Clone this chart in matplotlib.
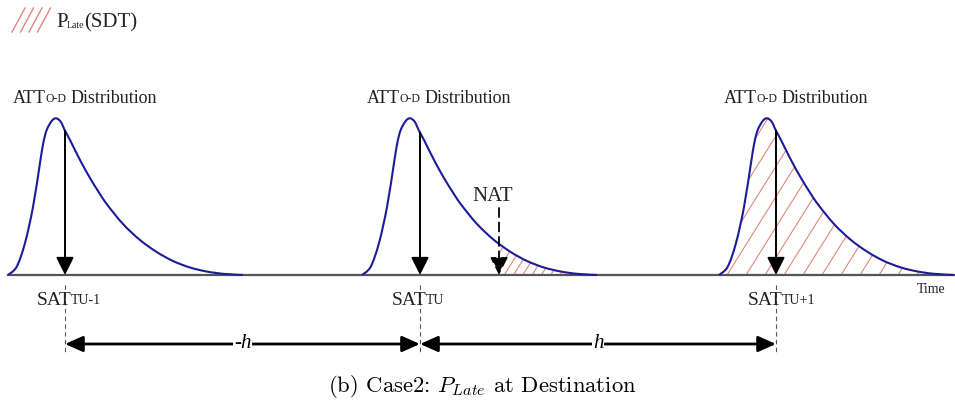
import numpy as np
import matplotlib
matplotlib.use("Agg")
import matplotlib.pyplot as plt
from matplotlib.patches import PathPatch
from matplotlib.path import Path

plt.rcParams['mathtext.fontset'] = 'cm'

# shape of one ATT distribution (px offset from start, height above axis)
curve_dx = [0, 8.7, 17, 25, 32, 35.3, 38.7, 43.7, 48, 52.7, 57, 62, 72, 82, 90, 98.7,
            115, 132, 148.7, 165, 182, 198.7, 215, 235]
curve_h = [0, 8.3, 32, 68, 112, 132, 145, 154, 156.7, 153.3, 144.3, 135, 115, 97, 84, 71,
           51, 35, 23, 14, 7.5, 3.5, 1.2, 0]

curve_start = [8, 362, 719]          # left end of each distribution
sat_x = [65, 420, 776]               # scheduled arrival times
sat_subs = ['TU-1', 'TU', 'TU+1']
nat_x = 499                          # new arrival time
gap_labels = ['-h', 'h']

base_y = 275
blue = '#1c1c98'
hatch_col = '#e0877c'
txt_col = '#222222'
serif = 'Liberation Serif'

fig = plt.figure(figsize=(9.55, 4.05), dpi=100)
ax = fig.add_axes([0, 0, 1, 1])
ax.set_xlim(0, 955)
ax.set_ylim(405, 0)
ax.axis('off')


def smooth_path(xs, ys, close_to=None):
    # bezier through the read points (catmull-rom control points)
    p = np.column_stack([xs, ys])
    ext = np.vstack([p[0], p, p[-1]])
    verts = [p[0]]
    codes = [Path.MOVETO]
    for i in range(len(p) - 1):
        c1 = ext[i + 1] + (ext[i + 2] - ext[i]) / 6
        c2 = ext[i + 2] - (ext[i + 3] - ext[i + 1]) / 6
        verts += [c1, c2, ext[i + 2]]
        codes += [Path.CURVE4] * 3
    if close_to is not None:
        for v in close_to:
            verts.append(v)
            codes.append(Path.LINETO)
        verts.append(p[0])
        codes.append(Path.CLOSEPOLY)
    return Path(verts, codes)


def hatch_region(path, x_lo, x_hi, spacing, ang=58):
    clip = PathPatch(path, facecolor='none', edgecolor='none')
    ax.add_patch(clip)
    t = np.tan(np.radians(ang))
    h = 200
    for x0 in np.arange(x_lo - h / t, x_hi + spacing, spacing):
        ln, = ax.plot([x0, x0 + h / t], [base_y, base_y - h], color=hatch_col, lw=0.8, zorder=1)
        ln.set_clip_path(clip)


# axis line
ax.plot([8, 955], [base_y, base_y], color='#555555', lw=1.6, zorder=2)
ax.text(917, 293, 'Time', fontsize=10, family=serif, color=txt_col)

dx = np.array(curve_dx)
hh = np.array(curve_h)
for i, (x0, sx) in enumerate(zip(curve_start, sat_x)):
    xs = x0 + dx
    ys = base_y - hh
    ax.add_patch(PathPatch(smooth_path(xs, ys), facecolor='none', edgecolor=blue, lw=1.5,
                           zorder=4))

    # hatched P_late area
    if i == 1:
        m = xs > nat_x
        hx = np.concatenate([[nat_x], xs[m]])
        hy = np.concatenate([[base_y - np.interp(nat_x - x0, dx, hh)], ys[m]])
        hatch_region(smooth_path(hx, hy, close_to=[(nat_x, base_y)]), nat_x, hx[-1], 9.3)
    if i == 2:
        hatch_region(smooth_path(xs, ys, close_to=[]), xs[0], xs[-1], 19)

    # SAT arrow from the curve down to the axis
    top = base_y - np.interp(sx - x0, dx, hh)
    ax.annotate('', xy=(sx, base_y), xytext=(sx, top),
                arrowprops=dict(arrowstyle='-|>,head_length=0.9,head_width=0.45',
                                color='k', lw=1.4, shrinkA=0, shrinkB=0, mutation_scale=12),
                zorder=5)

    # distribution label
    t = ax.text(x0 + 5, 103, 'ATT', fontsize=13, family=serif, color=txt_col, va='baseline')
    sub = ax.annotate('O-D', xy=(1, 0), xycoords=t, xytext=(-0.5, 1.5),
                      textcoords='offset points', fontsize=8.5, family=serif,
                      color=txt_col, va='bottom')
    ax.annotate('Distribution', xy=(1, 0), xycoords=sub, xytext=(3, -1.5),
                textcoords='offset points', fontsize=13, family=serif,
                color=txt_col, va='bottom')

    # SAT label
    s = ax.text(sx - 28, 305, 'SAT', fontsize=14, family=serif, color=txt_col, va='baseline')
    ax.annotate(sat_subs[i], xy=(1, 0), xycoords=s, xytext=(-0.5, 1.5),
                textcoords='offset points', fontsize=10, family=serif,
                color=txt_col, va='bottom')

    # dashed drop line
    ax.plot([sx, sx], [285, 352], color='#555555', lw=0.8, ls=(0, (4, 3)), zorder=1)

# NAT
ax.text(493, 201, 'NAT', fontsize=15, family=serif, color=txt_col, ha='center', va='baseline')
ax.annotate('', xy=(nat_x, base_y), xytext=(nat_x, 208),
            arrowprops=dict(arrowstyle='-|>,head_length=0.9,head_width=0.45', color='k', lw=1.3,
                            ls=(0, (5, 3)), shrinkA=0, shrinkB=0, mutation_scale=12), zorder=5)

# headway arrows
arr_y = 344
for (a, b), lab in zip(zip(sat_x[:-1], sat_x[1:]), gap_labels):
    ax.annotate('', xy=(b, arr_y), xytext=(a, arr_y),
                arrowprops=dict(arrowstyle='<|-|>,head_length=0.9,head_width=0.4', color='k',
                                lw=2.0, shrinkA=0, shrinkB=0, mutation_scale=12))
    ax.text((a + b) / 2, arr_y, lab, fontsize=15, family=serif, style='italic', ha='center',
            va='center', bbox=dict(facecolor='white', edgecolor='none', pad=0.5))

# legend
for lx in [12, 20.5, 29, 37.5]:
    ax.plot([lx, lx + 13], [32, 8], color=hatch_col, lw=1.0)
p = ax.text(56, 27, 'P', fontsize=15, family=serif, color=txt_col, va='baseline')
q = ax.annotate('Late', xy=(1, 0), xycoords=p, xytext=(-0.5, 1.5), textcoords='offset points',
                fontsize=7, family=serif, color=txt_col, va='bottom')
ax.annotate('(SDT)', xy=(1, 0), xycoords=q, xytext=(0, -1.5), textcoords='offset points',
            fontsize=15, family=serif, color=txt_col, va='bottom')

# caption
ax.text(482, 392, r'(b) Case2: $P_{Late}$ at Destination', fontsize=16.3, family='cmr10',
        ha='center', va='baseline')

fig.savefig('out.png', dpi=100)
